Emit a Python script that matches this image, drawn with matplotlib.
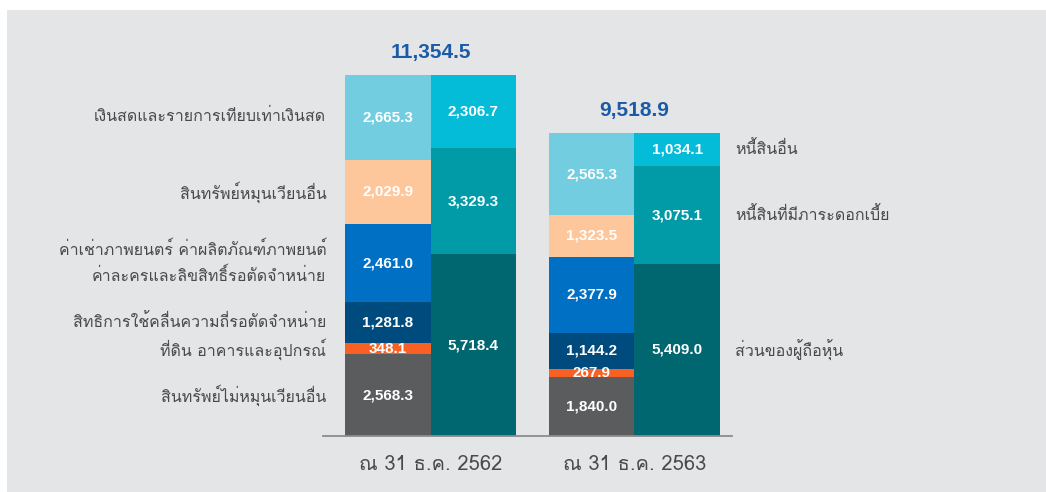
import numpy as np
import matplotlib
matplotlib.use("Agg")
import matplotlib.pyplot as plt
from matplotlib.patches import Rectangle

thai = ["Loma", "Noto Sans Thai", "DejaVu Sans"]
num = ["Liberation Sans", "DejaVu Sans"]

periods = ["ณ 31 ธ.ค. 2562", "ณ 31 ธ.ค. 2563"]
totals = [11354.5, 9518.9]

# assets, bottom to top
asset_names = ["สินทรัพย์ไม่หมุนเวียนอื่น",
               "ที่ดิน อาคารและอุปกรณ์",
               "สิทธิการใช้คลื่นความถี่รอตัดจำหน่าย",
               "ค่าเช่าภาพยนตร์ ค่าผลิตภัณฑ์ภาพยนต์\nค่าละครและลิขสิทธิ์รอตัดจำหน่าย",
               "สินทรัพย์หมุนเวียนอื่น",
               "เงินสดและรายการเทียบเท่าเงินสด"]
assets_2562 = [2568.3, 348.1, 1281.8, 2461.0, 2029.9, 2665.3]
assets_2563 = [1840.0, 267.9, 1144.2, 2377.9, 1323.5, 2565.3]
asset_colors = ["#5a5c5e", "#f96124", "#004b7d", "#0070c4", "#fdc79b", "#72cde0"]

# liabilities + equity, bottom to top
liab_names = ["ส่วนของผู้ถือหุ้น", "หนี้สินที่มีภาระดอกเบี้ย", "หนี้สินอื่น"]
liab_2562 = [5718.4, 3329.3, 2306.7]
liab_2563 = [5409.0, 3075.1, 1034.1]
liab_colors = ["#00666f", "#009ba7", "#04bbd8"]

bg = "#e4e5e7"
txt = "#4a4a4a"
fig = plt.figure(figsize=(10.46, 4.92), dpi=100)
fig.patch.set_facecolor("white")
fig.add_artist(Rectangle((7 / 1046, 0), 1, 482 / 492, transform=fig.transFigure,
                         facecolor=bg, edgecolor="none", zorder=-10))

ax = fig.add_axes([323 / 1046, 56 / 492, 409 / 1046, 406 / 492])
ax.set_facecolor("none")
w = 0.419
xs = np.arange(len(periods))

for i, (a, l) in enumerate([(assets_2562, liab_2562), (assets_2563, liab_2563)]):
    ab = np.concatenate([[0], np.cumsum(a)[:-1]])
    lb = np.concatenate([[0], np.cumsum(l)[:-1]])
    ax.bar(xs[i] - w / 2, a, w, bottom=ab, color=asset_colors, linewidth=0)
    ax.bar(xs[i] + w / 2, l, w, bottom=lb, color=liab_colors, linewidth=0)
    for v, b in zip(a, ab):
        ax.text(xs[i] - w / 2, b + v / 2, f"{v:,.1f}", ha="center", va="center",
                color="white", fontsize=11, fontweight="bold", family=num)
    for v, b in zip(l, lb):
        ax.text(xs[i] + w / 2, b + v / 2, f"{v:,.1f}", ha="center", va="center",
                color="white", fontsize=11, fontweight="bold", family=num)
    ax.annotate(f"{totals[i]:,.1f}", (xs[i], max(sum(a), sum(l))), xytext=(0, 16.5),
                textcoords="offset points", ha="center", va="center",
                color="#1a5aa6", fontsize=15, fontweight="bold", family=num)

# category labels beside the bars
ab = np.concatenate([[0], np.cumsum(assets_2562)[:-1]])
for name, v, b in zip(asset_names, assets_2562, ab):
    ax.annotate(name, (xs[0] - w, b + v / 2), xytext=(-13.5, 0), textcoords="offset points",
                ha="right", va="center", color=txt, fontsize=11.5, family=thai,
                linespacing=1.7)
lb = np.concatenate([[0], np.cumsum(liab_2563)[:-1]])
for name, v, b in zip(liab_names, liab_2563, lb):
    ax.annotate(name, (xs[1] + w, b + v / 2), xytext=(10.8, 0), textcoords="offset points",
                ha="left", va="center", color=txt, fontsize=11.5, family=thai)

ax.set_xlim(-0.527, 1.478)
ax.set_ylim(0, 406 / 0.0318)
ax.set_xticks(xs)
ax.set_xticklabels(periods, family=thai, fontsize=14.5, color=txt)
ax.tick_params(axis="x", length=0, pad=13.5)
ax.set_yticks([])
for s in ["top", "left", "right"]:
    ax.spines[s].set_visible(False)
ax.spines["bottom"].set_color("#8c8c8c")
ax.spines["bottom"].set_linewidth(1.3)

fig.savefig("out.png", facecolor=fig.get_facecolor())
